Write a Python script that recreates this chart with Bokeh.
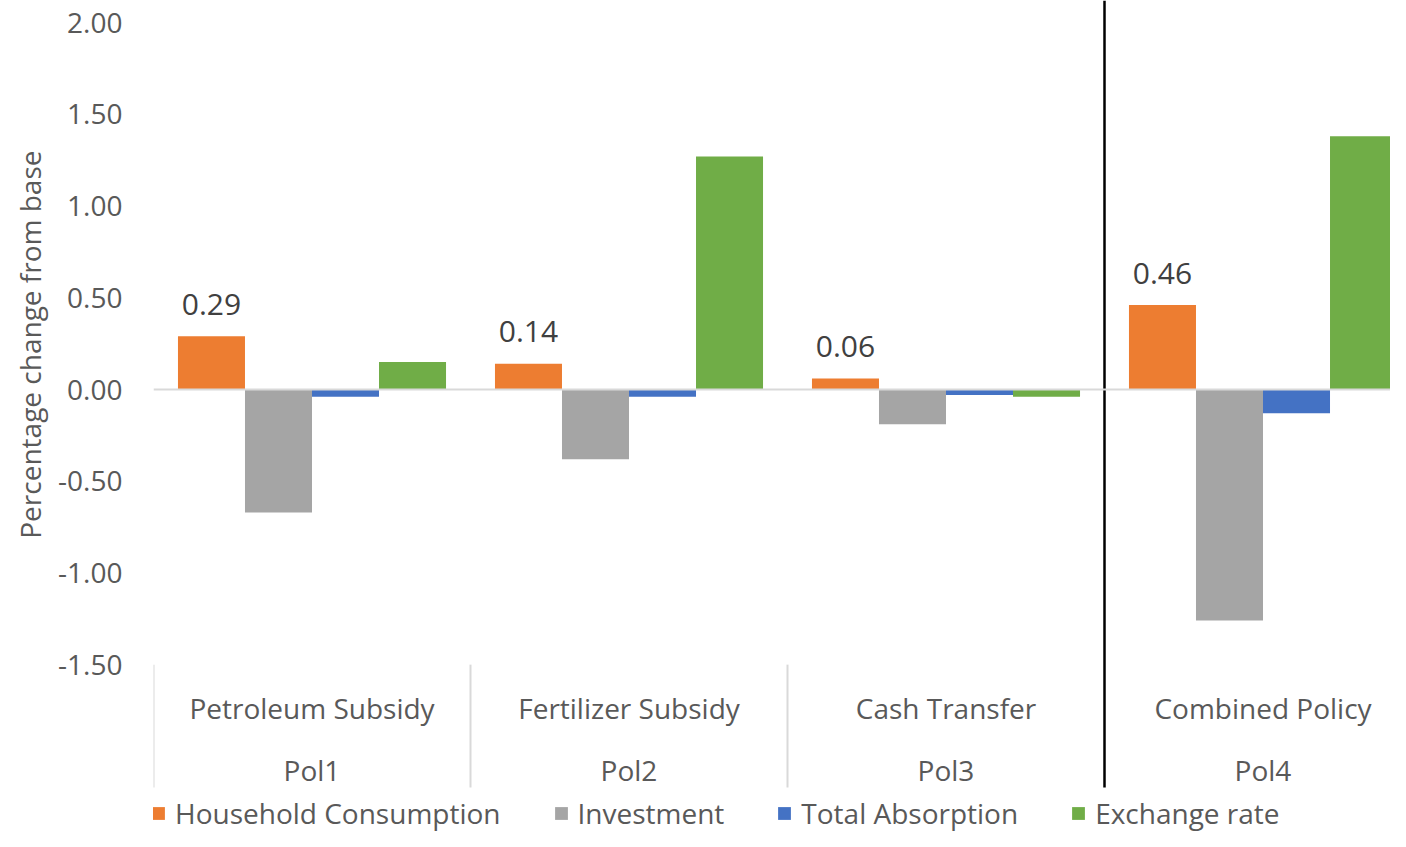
from bokeh.plotting import figure
from bokeh.models import (Range1d, FixedTicker, Legend, LegendItem, ColumnDataSource, Span,
                          CustomJSTickFormatter, Title)
from bokeh.core.properties import value
from bokeh.embed import file_html
from bokeh.resources import INLINE

# ---- data ----
policies = ["Pol1", "Pol2", "Pol3", "Pol4"]
policy_names = ["Petroleum Subsidy", "Fertilizer Subsidy", "Cash Transfer", "Combined Policy"]
series_names = ["Household Consumption", "Investment", "Total Absorption", "Exchange rate"]
household = [0.29, 0.14, 0.06, 0.46]
investment = [-0.67, -0.38, -0.19, -1.26]
absorption = [-0.04, -0.04, -0.03, -0.13]
exchange = [0.15, 1.27, -0.04, 1.38]
y_ticks = [-1.5, -1.0, -0.5, 0.0, 0.5, 1.0, 1.5, 2.0]
colors = ["#ED7D31", "#A5A5A5", "#4472C4", "#70AD47"]

FONT = "Open Sans"
W, H = 1390, 831
LEFT = 153
GROUP_PX = 317.0        # px per category
SCALE = 183.43          # px per unit on y
ZERO_PX = 389.0         # px from top for y=0
y_end = ZERO_PX / SCALE
y_start = -(H - ZERO_PX) / SCALE
x_end = (W - LEFT) / GROUP_PX


def ypx(py):
    """vertical pixel position (from top) -> data units"""
    return (ZERO_PX - py) / SCALE


p = figure(width=W, height=H, output_backend="svg", toolbar_location=None,
           x_range=Range1d(0, x_end), y_range=Range1d(y_start, y_end),
           min_border_left=LEFT, min_border_right=0, min_border_top=0, min_border_bottom=0)
p.outline_line_color = None
p.xgrid.visible = False
p.ygrid.visible = False
p.xaxis.visible = False

yax = p.yaxis[0]
yax.ticker = FixedTicker(ticks=y_ticks)
yax.formatter = CustomJSTickFormatter(code="return tick.toFixed(2);")
yax.axis_line_color = None
yax.major_tick_line_color = None
yax.minor_tick_line_color = None
yax.major_tick_out = 0
yax.major_tick_in = 0
yax.minor_tick_out = 0
yax.major_label_standoff = 31
yax.major_label_text_font = FONT
yax.major_label_text_font_size = "28px"
yax.major_label_text_color = "#595959"

# y-axis title, placed along the value region (top end near y=150px)
p.add_layout(Title(text="Percentage change from base", align="right",
                   offset=150, standoff=14,
                   text_font=FONT, text_font_size="28px", text_font_style="normal",
                   text_color="#595959"), "left")

# zero line
p.add_layout(Span(location=0, dimension="width", line_color="#D9D9D9", line_width=2))

# bars
bw = 0.2114
all_series = [household, investment, absorption, exchange]
renderers = []
for i, (vals, col) in enumerate(zip(all_series, colors)):
    xs = [g + 0.5 + (i - 1.5) * bw for g in range(len(policies))]
    src = ColumnDataSource(dict(x=xs, top=vals))
    r = p.vbar(x="x", top="top", bottom=0, width=bw, source=src,
               fill_color=col, line_color=None)
    renderers.append(r)

# data labels for household consumption
hx = [g + 0.5 - 1.5 * bw for g in range(len(policies))]
lab_src = ColumnDataSource(dict(x=hx, y=household, t=["%.2f" % v for v in household]))
p.text(x="x", y="y", text="t", source=lab_src, text_align="center", text_baseline="middle",
       y_offset=-32, text_font=value(FONT), text_font_size="30px", text_color="#404040")

# category separators
y_low = -1.5
y_bottom = ypx(787)
sep_x = [0, 1, 2]
p.segment(x0=sep_x, y0=[y_low] * 3, x1=sep_x, y1=[y_bottom] * 3,
          line_color="#D9D9D9", line_width=2)
p.segment(x0=[3], y0=[y_end], x1=[3], y1=[y_bottom], line_color="#000000", line_width=2.5)

# category labels
cx = [g + 0.5 for g in range(len(policies))]
p.text(x=cx, y=[ypx(707)] * 4, text=policy_names, text_align="center", text_baseline="middle",
       text_font=value(FONT), text_font_size="28px", text_color="#595959")
p.text(x=cx, y=[ypx(769)] * 4, text=policies, text_align="center", text_baseline="middle",
       text_font=value(FONT), text_font_size="28px", text_color="#595959")

legend = Legend(items=[LegendItem(label=n, renderers=[r]) for n, r in zip(series_names, renderers)],
                orientation="horizontal", location=(-3, -1),
                glyph_width=16, glyph_height=16, label_standoff=9, spacing=52,
                padding=0, margin=0, border_line_color=None, background_fill_alpha=0,
                label_text_font=FONT, label_text_font_size="28px", label_text_color="#595959")
p.add_layout(legend)

open("out.html", "w").write(file_html(p, INLINE))
